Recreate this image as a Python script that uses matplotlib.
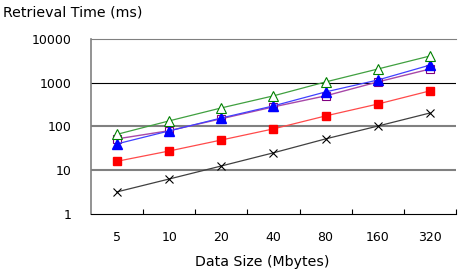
import numpy as np
import matplotlib.pyplot as plt

# data
sizes = ['5', '10', '20', '40', '80', '160', '320']
black_x = [3.2, 6.3, 12.5, 25, 52, 102, 203]
red_sq = [16, 27.5, 49, 88, 174, 325, 650]
purple_sq = [52, 80, 150, 280, 500, 1040, 2050]
blue_tri = [40, 79, 156, 295, 615, 1150, 2520]
green_tri = [66, 134, 265, 500, 1040, 2050, 4070]

plt.rcParams['font.family'] = ['DejaVu Sans']

fig = plt.figure(figsize=(4.59, 2.72), dpi=100)
ax = fig.add_axes([0.198, 0.2132, 0.7955, 0.6438])

x = np.arange(len(sizes))

# gridlines
ax.axhline(1000, color='black', lw=0.8, zorder=1)
ax.axhline(100, color='#808080', lw=1.5, zorder=1)
ax.axhline(10, color='#808080', lw=1.5, zorder=1)

ax.plot(x, black_x, color='#404040', lw=0.9, marker='x', ms=6, mec='black', mew=0.8, zorder=3)
ax.plot(x, red_sq, color='#ff4a4a', lw=0.9, marker='s', ms=5.5, mfc='red', mec='red', zorder=3)
ax.plot(x, purple_sq, color='#a848a8', lw=1.0, marker='s', ms=6, mfc='white', mec='#800080', mew=0.8, zorder=3)
ax.plot(x, blue_tri, color='#4040ff', lw=0.9, marker='^', ms=6.5, mfc='blue', mec='blue', zorder=4)
ax.plot(x, green_tri, color='#40a040', lw=0.9, marker='^', ms=7, mfc='white', mec='#008000', mew=0.8, zorder=5)

ax.set_yscale('log')
ax.set_ylim(1, 10000)
ax.set_xlim(-0.5, len(sizes) - 0.5)
ax.set_yticks([1, 10, 100, 1000, 10000])
ax.set_yticklabels(['1', '10', '100', '1000', '10000'])
ax.yaxis.set_minor_locator(plt.NullLocator())
ax.tick_params(axis='y', length=0, pad=14, labelsize=9)

ax.set_xticks(x)
ax.set_xticklabels(sizes)
ax.set_xticks(np.arange(len(sizes)) + 0.5, minor=True)
ax.tick_params(axis='x', which='major', length=0, pad=12, labelsize=9)
ax.tick_params(axis='x', which='minor', direction='in', length=3.5, width=0.8, color='black')

ax.spines['top'].set_color('#808080')
ax.spines['top'].set_linewidth(0.8)
ax.spines['left'].set_color('#808080')
ax.spines['left'].set_linewidth(1.2)
ax.spines['bottom'].set_color('black')
ax.spines['bottom'].set_linewidth(0.8)
ax.spines['right'].set_visible(False)

fig.text(0.006, 0.955, 'Retrieval Time (ms)', fontsize=10.2, ha='left', va='center')
fig.text(0.572, 0.037, 'Data Size (Mbytes)', fontsize=10.2, ha='center', va='center')

fig.savefig('out.png', dpi=100)
